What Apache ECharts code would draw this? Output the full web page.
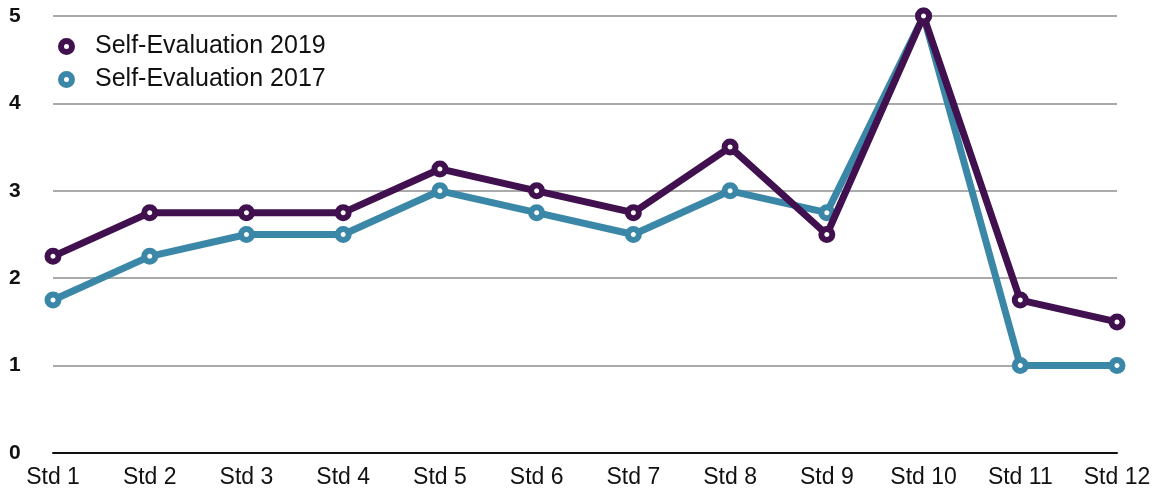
<!DOCTYPE html>
<html><head><meta charset="utf-8">
<script src="https://cdn.jsdelivr.net/npm/echarts@6/dist/echarts.min.js"></script>
<style>html,body{margin:0;padding:0;background:#fff}#c{width:1159px;height:489px}</style>
</head><body><div id="c"></div>
<script>
const categories = ['Std 1','Std 2','Std 3','Std 4','Std 5','Std 6','Std 7','Std 8','Std 9','Std 10','Std 11','Std 12'];
const eval2019 = [2.25, 2.75, 2.75, 2.75, 3.25, 3, 2.75, 3.5, 2.5, 5, 1.75, 1.5];
const eval2017 = [1.75, 2.25, 2.5, 2.5, 3, 2.75, 2.5, 3, 2.75, 5, 1, 1];
const c2019 = '#41104f';
const c2017 = '#3a87a8';
const font = 'Liberation Sans, Arial, Helvetica, sans-serif';
const chart = echarts.init(document.getElementById('c'));
function mk(name, data, color, z) {
  return {
    name, type: 'line', data, z,
    symbol: 'circle', symbolSize: 11,
    lineStyle: { color, width: 7 },
    itemStyle: { color: '#fff', borderColor: color, borderWidth: 6 },
    emphasis: { disabled: true },
    animation: false
  };
}
chart.setOption({
  animation: false,
  grid: { left: 53, right: 42, top: 16, bottom: 36 },
  legend: {
    left: 53, top: 29, orient: 'vertical', itemGap: 8,
    itemWidth: 11, itemHeight: 11,
    textStyle: { fontFamily: font, fontSize: 25, color: '#111', padding: [0,0,0,18] },
    data: [
      { name: 'Self-Evaluation 2019', icon: 'circle', itemStyle: { color: '#fff', borderColor: c2019, borderWidth: 6 } },
      { name: 'Self-Evaluation 2017', icon: 'circle', itemStyle: { color: '#fff', borderColor: c2017, borderWidth: 6 } }
    ]
  },
  xAxis: {
    type: 'category', data: categories, boundaryGap: false,
    axisLine: { lineStyle: { color: '#111', width: 2 } },
    axisTick: { show: false },
    axisLabel: { fontFamily: font, fontSize: 23, color: '#111', margin: 13 },
    splitLine: { show: false }
  },
  yAxis: {
    type: 'value', min: 0, max: 5, interval: 1,
    axisLine: { show: false }, axisTick: { show: false },
    axisLabel: { fontFamily: font, fontSize: 21, fontWeight: 'bold', color: '#111', align: 'left', margin: 44, verticalAlign: 'middle' },
    splitLine: { lineStyle: { color: '#aaa', width: 2 } }
  },
  series: [ mk('Self-Evaluation 2019', eval2019, c2019, 3), mk('Self-Evaluation 2017', eval2017, c2017, 2) ]
});
</script></body></html>
